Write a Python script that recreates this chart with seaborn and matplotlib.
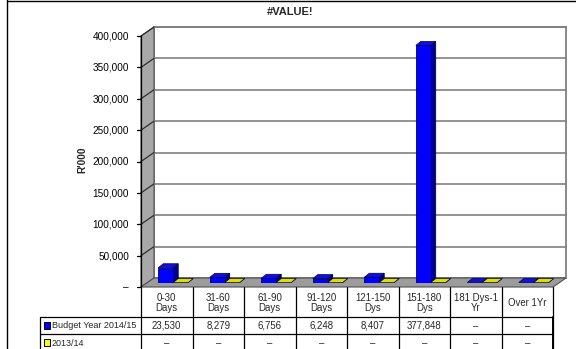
import matplotlib
matplotlib.use("Agg")
import matplotlib.pyplot as plt
from matplotlib.transforms import IdentityTransform
from matplotlib.patches import Polygon, Rectangle
import seaborn as sns
import pandas as pd

# ---------------- data ----------------
categories = ["0-30\nDays", "31-60\nDays", "61-90\nDays", "91-120\nDays",
              "121-150\nDys", "151-180\nDys", "181 Dys-1\nYr", "Over 1Yr"]
series_names = ["Budget Year 2014/15", "2013/14"]
budget_2014_15 = [23530, 8279, 6756, 6248, 8407, 377848, 0, 0]
prior_2013_14 = [0, 0, 0, 0, 0, 0, 0, 0]
y_ticks = [0, 50000, 100000, 150000, 200000, 250000, 300000, 350000, 400000]
title_text = "#VALUE!"
y_label = "R'000"
series_colors = ["#0000FF", "#FFFF00"]

W, H = 576, 349
sns.set_theme(style="white")
plt.rcParams["font.family"] = ["Liberation Sans", "DejaVu Sans"]
FS = 7.2
FT = 6.9

fig = plt.figure(figsize=(W / 100, H / 100), dpi=100)
fig.patch.set_facecolor("white")

# background axes in image pixel coordinates (y downward)
bg = fig.add_axes([0, 0, 1, 1])
bg.set_xlim(0, W)
bg.set_ylim(H, 0)
bg.axis("off")
bg.set_zorder(0)

# mid-depth plane of the 3D box
L, R, B, T = 147.5, 559.5, 282.5, 31.5
ax = fig.add_axes([L / W, (H - B) / H, (R - L) / W, (B - T) / H])
ax.set_zorder(2)

df = pd.DataFrame({
    "cat": categories * 2,
    "series": [series_names[0]] * len(categories) + [series_names[1]] * len(categories),
    "value": budget_2014_15 + prior_2013_14,
})
sns.barplot(data=df, x="cat", y="value", hue="series", order=categories,
            hue_order=series_names, palette=series_colors, saturation=1,
            width=0.58, gap=0, edgecolor="#000060", linewidth=0.6,
            errorbar=None, legend=False, ax=ax)
ax.set_xlim(-0.5, len(categories) - 0.5)
ax.set_ylim(y_ticks[0], y_ticks[-1])
ax.axis("off")

# depth offsets
FDX, FDY = -6.5, 4.5   # mid -> front (image coords)
BDX, BDY = 6.5, -4.5   # mid -> back

def mid_y(v):
    return H - ax.transData.transform((0, v))[1]

y0m, ytm = mid_y(y_ticks[0]), mid_y(y_ticks[-1])
fx0, fx1 = L + FDX, R + FDX
bx0, bx1 = L + BDX, R + BDX

# back wall
bg.add_patch(Rectangle((bx0, ytm + BDY), bx1 - bx0, (y0m + BDY) - (ytm + BDY),
                       facecolor="white", edgecolor="#7f7f7f", lw=1.3, zorder=1))
# left wall
bg.add_patch(Polygon([(fx0, ytm + FDY), (bx0, ytm + BDY), (bx0, y0m + BDY), (fx0, y0m + FDY)],
                     closed=True, facecolor="#a8a8a8", edgecolor="#505050", lw=0.8, zorder=2))
# floor
bg.add_patch(Polygon([(fx0, y0m + FDY), (bx0, y0m + BDY), (bx1, y0m + BDY), (fx1, y0m + FDY)],
                     closed=True, facecolor="#9c9c9c", edgecolor="#505050", lw=0.8, zorder=2))

for v in y_ticks:
    ym = mid_y(v)
    yf, yb = ym + FDY, ym + BDY
    if v > 0:
        bg.plot([bx0, bx1], [yb, yb], color="#808080", lw=1.2, zorder=3)
        bg.plot([fx0, bx0], [yf, yb], color="#303030", lw=0.9, zorder=3)
    bg.plot([fx0 - 4, fx0], [yf, yf], color="black", lw=0.9, zorder=3)
    lab = "–" if v == 0 else f"{v:,}"
    bg.text(fx0 - 12, yf + 0.5, lab, ha="right", va="center", fontsize=FS, color="black")
bg.plot([fx0, fx0], [ytm + FDY, y0m + FDY], color="black", lw=0.9, zorder=4)

# 3D faces for bars
DX, DY = 5, 4
side_cols = {"#0000FF": ("#000090", "#1010E0"), "#FFFF00": ("#9a9a00", "#dede00")}
fig.canvas.draw()
for p in ax.patches:
    fc = matplotlib.colors.to_hex(p.get_facecolor()).upper()
    side_c, top_c = side_cols.get(fc, side_cols["#0000FF"])
    x, y, w, h = p.get_x(), p.get_y(), p.get_width(), p.get_height()
    (dx0, dy0) = ax.transData.transform((x, y))
    (dx1, dy1) = ax.transData.transform((x + w, y + h))
    side = Polygon([(dx1, dy0), (dx1 + DX, dy0 + DY), (dx1 + DX, dy1 + DY), (dx1, dy1)],
                   closed=True, facecolor=side_c, edgecolor="#000040", lw=0.5,
                   transform=IdentityTransform(), zorder=0.9)
    top = Polygon([(dx0, dy1), (dx1, dy1), (dx1 + DX, dy1 + DY), (dx0 + DX, dy1 + DY)],
                  closed=True, facecolor=top_c, edgecolor="#000040", lw=0.5,
                  transform=IdentityTransform(), zorder=0.9)
    ax.add_patch(side)
    ax.add_patch(top)

# title and axis label
bg.text(290, 12, title_text, ha="center", va="center", fontsize=8, fontweight="bold")
bg.text(82, 160, y_label, ha="center", va="center", rotation=90, fontsize=FS, fontweight="bold")

# data table
n = len(categories)
cw = (fx1 - fx0) / n
col_edges = [fx0 + cw * k for k in range(n + 1)]
hdr_top, hdr_bot = y0m + FDY, 317
row_edges = [317, 334, 351]
lab_left = 40
tc = "black"
for xe in col_edges:
    bg.plot([xe, xe], [hdr_top, row_edges[-1]], color=tc, lw=0.9, zorder=5)
bg.plot([fx1, fx1], [hdr_bot, row_edges[-1]], color=tc, lw=1.4, zorder=5)
bg.plot([lab_left, lab_left], [row_edges[0], row_edges[-1]], color=tc, lw=0.9, zorder=5)
for ye in row_edges:
    bg.plot([lab_left, fx1], [ye, ye], color=tc, lw=0.9, zorder=5)
for i, c in enumerate(categories):
    cx = (col_edges[i] + col_edges[i + 1]) / 2
    bg.text(cx, (hdr_top + hdr_bot) / 2 + 1, c, ha="center", va="center",
            fontsize=FT, linespacing=1.05)
for r, (name, vals, col) in enumerate(zip(series_names, [budget_2014_15, prior_2013_14], series_colors)):
    yc = (row_edges[r] + row_edges[r + 1]) / 2
    bg.add_patch(Rectangle((43.5, yc - 3.2), 6.4, 6.4, facecolor=col, edgecolor="black", lw=0.7, zorder=6))
    bg.text(51.5, yc + 0.5, name, ha="left", va="center", fontsize=6.5)
    for i, v in enumerate(vals):
        cx = (col_edges[i] + col_edges[i + 1]) / 2
        bg.text(cx, yc + 0.5, "–" if v == 0 else f"{v:,}", ha="center", va="center", fontsize=FT)

# outer chart border
bg.plot([7, 7], [0, H], color="black", lw=1.0, zorder=6)
bg.plot([7, W], [0.5, 0.5], color="black", lw=1.0, zorder=6)

fig.savefig("out.png", dpi=100)
